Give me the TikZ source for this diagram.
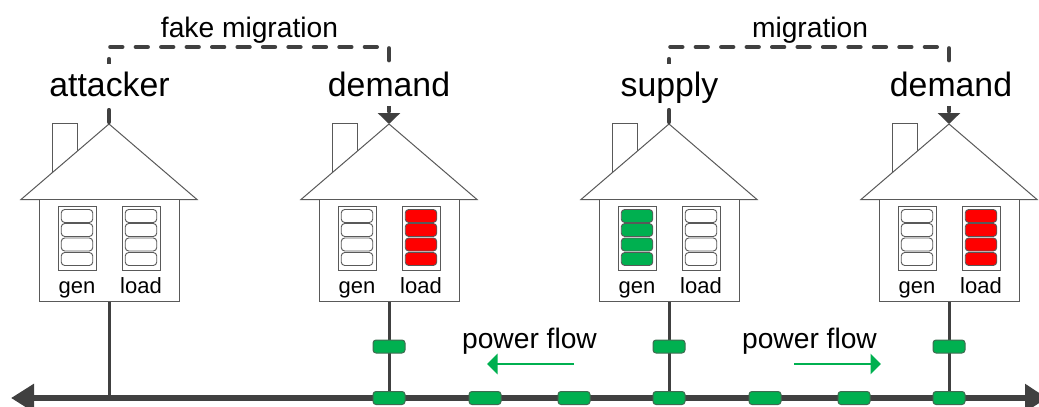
\documentclass[tikz,border=0pt]{standalone}
\usepackage{fontspec}
\setmainfont{Liberation Sans}
\usetikzlibrary{arrows.meta,positioning,calc}
\definecolor{hline}{HTML}{595959}
\definecolor{dark}{HTML}{404040}
\definecolor{grn}{HTML}{00B050}
\definecolor{sz}{HTML}{3F6B50}
\tikzset{
  house/.style={draw=hline,line width=1pt,fill=white,line join=miter},
  bodybox/.style={draw=hline,line width=1pt,fill=white,minimum width=140pt,minimum height=101.5pt,inner sep=0pt},
  rack/.style={draw=hline,line width=1pt,fill=white,minimum width=38pt,minimum height=64pt,inner sep=0pt},
  slot/.style={draw=hline,line width=.9pt,rounded corners=3.5pt,minimum width=31.5pt,minimum height=13pt,inner sep=0pt},
  small/.style={font=\fontsize{22}{24}\selectfont,inner sep=0pt,anchor=base},
  mid/.style={font=\fontsize{28.2}{30}\selectfont,inner sep=0pt,anchor=base},
  big/.style={font=\fontsize{33.8}{36}\selectfont,inner sep=0pt,anchor=base,fill=white,text height=32pt},
  dashline/.style={draw=dark,line width=4.3pt,line cap=round,dash pattern=on 12pt off 13.45pt,dash phase=23.45pt},
  feeder/.style={draw=dark,line width=3pt},
  bus/.style={draw=dark,line width=6.8pt,{Triangle[length=23pt,width=27pt]}-{Triangle[length=22pt,width=27pt]}},
  breaker/.style={draw=sz,line width=1pt,fill=grn,rounded corners=3pt,minimum width=32pt,minimum height=13pt,inner sep=0pt},
  flowarrow/.style={draw=grn,line width=2.8pt,-{Triangle[length=10.5pt,width=20pt]}}
}
\begin{document}
\begin{tikzpicture}[x=1pt,y=-1pt]
\useasboundingbox (0,0) rectangle (1039,407);
% bus end points
\coordinate (busL) at (11,398);
\coordinate (busR) at (1047,398);
% houses
\foreach \i/\cx/\gc/\lc in {1/109/white/white,2/389/white/red,3/669/grn/white,4/949/white/red}{
  \coordinate (apex\i) at (\cx,124);
  \draw[house] (\cx-57,172) -- (\cx-57,123.5) -- (\cx-32,123.5) -- (\cx-32,151);
  \draw[house] (apex\i) -- (\cx+88,199.5) -- (\cx-88,199.5) -- cycle;
  \node[bodybox] (body\i) at (\cx,250.5) {};
  \node[rack] (gen\i) at (\cx-32,238) {};
  \node[rack] (load\i) at (\cx+32,238) {};
  \foreach \k/\yy in {1/216,2/230,3/244.5,4/259}{
    \node[slot,fill=\gc] (gens\i\k) at (\cx-32,\yy) {};
    \node[slot,fill=\lc] (loads\i\k) at (\cx+32,\yy) {};
  }
  \node[small] (gent\i) at (\cx-32,293.5) {gen};
  \node[small] (loadt\i) at (\cx+32,293.5) {load};
  \coordinate (tap\i) at (\cx,398);
}
% migration connectors
\coordinate (c1) at (109,47);
\coordinate (c2) at (389,47);
\coordinate (c3) at (669,47);
\coordinate (c4) at (949,47);
\draw[dashline,-{Triangle[length=11pt,width=22pt]}] (apex1) -- (c1) -- (c2) -- (apex2);
\draw[dashline,-{Triangle[length=11pt,width=22pt]}] (apex3) -- (c3) -- (c4) -- (apex4);
% labels
\node[big,text depth=12pt] (attacker) at (109.5,96) {attacker};
\node[big,text depth=10pt] (demandA) at (389,96) {demand};
\node[big,text depth=12pt] (supply) at (669.5,96) {supply};
\node[big,text depth=10pt] (demandB) at (951,96) {demand};
\node[mid] (fake) at (249.5,37) {fake migration};
\node[mid] (mig) at (810,37) {migration};
% feeders and bus
\foreach \i in {1,2,3,4}{ \draw[feeder] (body\i.south) -- (tap\i); }
\draw[bus] (busL) -- (busR);
% breakers
\foreach \i/\cx in {2/389,3/669,4/949}{
  \node[breaker] (fb\i) at (\cx,346.5) {};
  \node[breaker] (bb\i) at (\cx,398) {};
}
\node[breaker] (b5) at (485,398) {};
\node[breaker] (b6) at (574,398) {};
\node[breaker] (b7) at (765,398) {};
\node[breaker] (b8) at (854,398) {};
% power flow
\node[mid] (pfA) at (529.5,348) {power flow};
\node[mid] (pfB) at (809.5,348) {power flow};
\coordinate (fa1) at (574,364);
\coordinate (fa2) at (487,364);
\coordinate (fb1) at (794,364);
\coordinate (fb2) at (881,364);
\draw[flowarrow] (fa1) -- (fa2);
\draw[flowarrow] (fb1) -- (fb2);
\end{tikzpicture}
\end{document}
